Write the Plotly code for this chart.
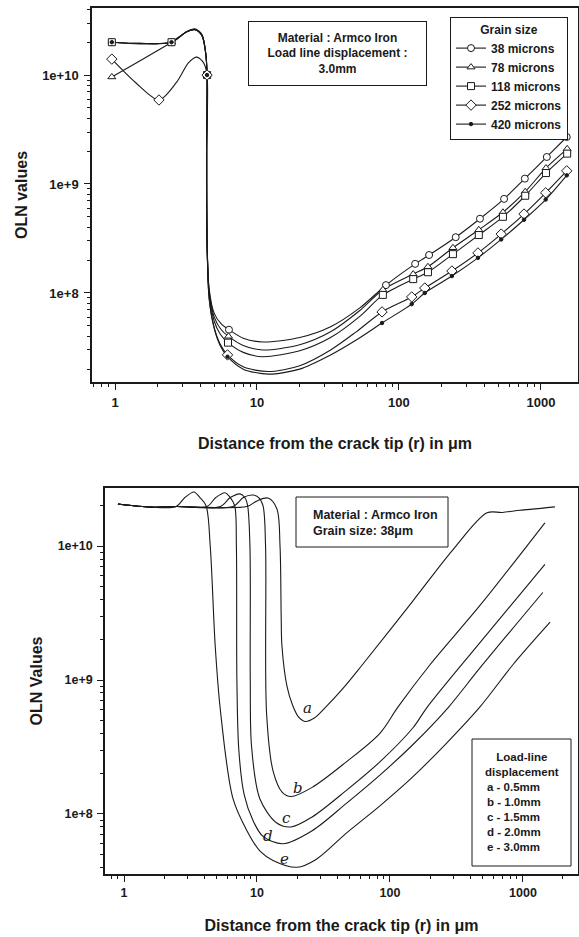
import math
import plotly.graph_objects as go

W, H = 579, 937

# ---------------- top panel: grain size series (load line displacement 3.0 mm) ----------------
grain_names = ["38 microns", "78 microns", "118 microns", "252 microns", "420 microns"]
grain_symbols = ["circle", "triangle-up", "square", "diamond", "circle"]

# measured points (markers)
g38_mx = [0.95, 2.5, 4.45, 6.35, 81, 130, 163, 251, 372, 550, 770, 1100, 1520]
g38_my = [2.0e10, 2.0e10, 1.0e10, 4.6e7, 1.18e8, 1.85e8, 2.23e8, 3.25e8, 4.8e8, 7.3e8, 1.12e9, 1.77e9, 2.7e9]
g78_mx = [0.95, 2.5, 4.45, 6.3, 77, 126, 160, 240, 365, 540, 775, 1085, 1530]
g78_my = [9.6e9, 2.0e10, 1.0e10, 4.0e7, 1.07e8, 1.49e8, 1.74e8, 2.6e8, 3.8e8, 5.5e8, 8.5e8, 1.4e9, 2.1e9]
g118_mx = [0.95, 2.5, 4.45, 6.25, 77, 126, 160, 240, 365, 540, 775, 1085, 1530]
g118_my = [2.0e10, 2.0e10, 1.0e10, 3.5e7, 9.6e7, 1.34e8, 1.55e8, 2.27e8, 3.4e8, 5.0e8, 7.8e8, 1.26e9, 1.9e9]
g252_mx = [0.95, 2.04, 4.45, 6.2, 76, 123, 152, 236, 360, 525, 760, 1080, 1520]
g252_my = [1.4e10, 5.9e9, 1.0e10, 2.7e7, 6.7e7, 9.2e7, 1.11e8, 1.59e8, 2.33e8, 3.47e8, 5.3e8, 8.3e8, 1.32e9]
g420_mx = [0.95, 2.5, 4.45, 6.2, 76, 123, 152, 236, 360, 525, 760, 1080, 1520]
g420_my = [2.0e10, 2.0e10, 1.0e10, 2.6e7, 5.3e7, 7.9e7, 1.0e8, 1.43e8, 2.1e8, 3.1e8, 4.7e8, 7.2e8, 1.2e9]

# fitted curves
g38_cx = [0.95, 1.5, 2.5, 3.2, 3.66, 4.1, 4.35, 4.45, 4.42, 4.45, 4.6, 5.0, 5.6, 6.35, 8, 11, 20, 33, 53,
          81, 130, 163, 251, 372, 550, 770, 1100, 1520]
g38_cy = [2.0e10, 1.93e10, 2.0e10, 2.5e10, 2.65e10, 2.35e10, 1.6e10, 1.0e10, 2e9, 3e8, 1.1e8, 6.5e7, 5.2e7, 4.6e7,
          3.85e7, 3.55e7, 3.9e7, 4.9e7, 7.3e7, 1.18e8, 1.85e8, 2.23e8, 3.25e8, 4.8e8, 7.3e8, 1.12e9, 1.77e9, 2.7e9]
g78_cx = [0.95, 1.6, 2.5, 3.2, 3.66, 4.1, 4.35, 4.45, 4.42, 4.45, 4.6, 5.0, 5.6, 6.3, 8, 11, 20, 33, 53,
          77, 126, 160, 240, 365, 540, 775, 1085, 1530]
g78_cy = [9.6e9, 1.42e10, 2.0e10, 2.5e10, 2.62e10, 2.3e10, 1.6e10, 1.0e10, 2e9, 3e8, 1.05e8, 6.0e7, 4.6e7, 4.0e7,
          3.3e7, 3.0e7, 3.35e7, 4.4e7, 6.9e7, 1.07e8, 1.49e8, 1.74e8, 2.6e8, 3.8e8, 5.5e8, 8.5e8, 1.4e9, 2.1e9]
g118_cx = [0.95, 1.5, 2.5, 3.2, 3.66, 4.1, 4.35, 4.45, 4.42, 4.45, 4.6, 5.0, 5.5, 6.25, 8, 11, 20, 33, 53,
           77, 126, 160, 240, 365, 540, 775, 1085, 1530]
g118_cy = [2.0e10, 1.95e10, 2.0e10, 2.5e10, 2.6e10, 2.3e10, 1.6e10, 1.0e10, 2e9, 3e8, 1.0e8, 5.5e7, 4.2e7, 3.5e7,
           2.85e7, 2.6e7, 2.95e7, 3.9e7, 6.1e7, 9.6e7, 1.34e8, 1.55e8, 2.27e8, 3.4e8, 5.0e8, 7.8e8, 1.26e9, 1.9e9]
g252_cx = [0.95, 1.4, 2.04, 2.7, 3.3, 3.77, 4.2, 4.45, 4.42, 4.45, 4.6, 5.0, 5.5, 6.2, 8, 12, 20, 33, 50,
           76, 123, 152, 236, 360, 525, 760, 1080, 1520]
g252_cy = [1.4e10, 8.5e9, 5.9e9, 8.5e9, 1.3e10, 1.46e10, 1.3e10, 1.0e10, 2e9, 3e8, 9e7, 4.8e7, 3.4e7, 2.7e7,
           2.1e7, 1.9e7, 2.15e7, 3.0e7, 4.4e7, 6.7e7, 9.2e7, 1.11e8, 1.59e8, 2.33e8, 3.47e8, 5.3e8, 8.3e8, 1.32e9]
g420_cx = [0.95, 1.5, 2.5, 3.2, 3.66, 4.1, 4.35, 4.45, 4.42, 4.45, 4.6, 5.0, 5.5, 6.2, 8, 12, 20, 33, 50,
           76, 123, 152, 236, 360, 525, 760, 1080, 1520]
g420_cy = [2.0e10, 1.95e10, 2.0e10, 2.5e10, 2.6e10, 2.3e10, 1.6e10, 1.0e10, 2e9, 3e8, 9e7, 4.7e7, 3.3e7, 2.6e7,
           2.0e7, 1.8e7, 2.0e7, 2.7e7, 3.7e7, 5.3e7, 7.9e7, 1.0e8, 1.43e8, 2.1e8, 3.1e8, 4.7e8, 7.2e8, 1.2e9]

# ---------------- bottom panel: load-line displacement series (grain size 38 um) ----------------
disp_labels = ["a", "b", "c", "d", "e"]
disp_values = ["0.5mm", "1.0mm", "1.5mm", "2.0mm", "3.0mm"]

da_x = [0.9, 1.6, 2.5, 8.4, 10.0, 12.1, 14.1, 14.9, 15.2, 15.4, 16.8, 18.5, 20.5, 23, 27, 33, 45, 62, 149, 298,
        537, 700, 950, 1300, 1740]
da_y = [2.06e10, 1.95e10, 1.97e10, 1.97e10, 2.17e10, 2.28e10, 1.9e10, 1.0e10, 3e9, 1.8e9, 9e8, 6.5e8, 5.3e8,
        4.9e8, 5.2e8, 6.3e8, 8.8e8, 1.3e9, 3.9e9, 9.4e9, 1.77e10, 1.78e10, 1.85e10, 1.9e10, 1.96e10]
db_x = [0.9, 1.6, 2.5, 6.6, 7.9, 9.3, 10.3, 11.1, 11.6, 11.8, 13.2, 15.5, 18, 26, 47, 84, 115, 200, 475, 1463]
db_y = [2.06e10, 1.95e10, 1.97e10, 1.97e10, 2.3e10, 2.4e10, 2.3e10, 2.0e10, 1.0e10, 5.7e8, 2.1e8, 1.45e8,
        1.35e8, 1.58e8, 2.45e8, 4.0e8, 6.3e8, 1.3e9, 3.6e9, 1.49e10]
dc_x = [0.9, 1.6, 2.5, 5.3, 6.3, 7.45, 8.1, 8.5, 8.85, 8.9, 9.1, 10.5, 14, 18, 26, 47, 84, 149, 189, 475, 1463]
dc_y = [2.06e10, 1.95e10, 1.97e10, 1.97e10, 2.3e10, 2.45e10, 2.3e10, 2.0e10, 1.0e10, 1.0e9, 3.2e8, 1.3e8,
        8.6e7, 8.0e7, 9.5e7, 1.5e8, 2.45e8, 4.4e8, 6.2e8, 1.9e9, 7.3e9]
dd_x = [0.9, 1.6, 2.5, 4.2, 4.9, 5.74, 6.3, 6.8, 7.0, 7.06, 7.3, 8.0, 9.3, 11.1, 15.7, 26, 47, 84, 149, 273,
        475, 1410]
dd_y = [2.06e10, 1.95e10, 1.97e10, 1.97e10, 2.3e10, 2.5e10, 2.3e10, 2.0e10, 1.0e10, 1.0e9, 3.0e8, 1.4e8,
        9.0e7, 6.8e7, 6.0e7, 7.5e7, 1.2e8, 1.95e8, 3.3e8, 6.2e8, 1.23e9, 4.5e9]
de_x = [0.9, 1.6, 2.46, 2.87, 3.36, 3.72, 4.14, 4.45, 4.85, 5.3, 6.6, 8.4, 10.5, 13.2, 20, 28, 47, 84, 149, 268,
        475, 840, 1600]
de_y = [2.06e10, 1.95e10, 1.97e10, 2.3e10, 2.53e10, 2.3e10, 2.0e10, 1.0e10, 1.8e9, 6e8, 1.3e8, 7.5e7, 5.3e7,
        4.5e7, 4.0e7, 4.6e7, 7.2e7, 1.15e8, 1.9e8, 3.4e8, 6.3e8, 1.3e9, 2.7e9]

# curve letter label positions (data coords, bottom panel)
lab_x = [23.8, 20.3, 16.8, 12.1, 16.2]
lab_y = [6.2e8, 1.55e8, 9.3e7, 6.8e7, 4.6e7]

x_ticks = [1, 10, 100, 1000]
x_ticktext = ["1", "10", "100", "1000"]
y_ticks = [1e8, 1e9, 1e10]
y_ticktext = ["1e+8", "1e+9", "1e+10"]

# ---------------- figure ----------------
INK = "#1a1a1a"
FONT = "Liberation Sans, Arial, sans-serif"

fig = go.Figure()

top_curves = [(g38_cx, g38_cy), (g78_cx, g78_cy), (g118_cx, g118_cy), (g252_cx, g252_cy), (g420_cx, g420_cy)]
top_marks = [(g38_mx, g38_my), (g78_mx, g78_my), (g118_mx, g118_my), (g252_mx, g252_my), (g420_mx, g420_my)]
msizes = [7, 7, 7, 8, 3.5]

for (cx, cy) in top_curves:
    fig.add_trace(go.Scatter(x=cx, y=cy, mode="lines", xaxis="x", yaxis="y", showlegend=False,
                             hoverinfo="skip",
                             line=dict(color=INK, width=1.1, shape="spline", smoothing=0.8)))

for i, (mx, my) in enumerate(top_marks):
    filled = (i == 4)
    fig.add_trace(go.Scatter(x=mx, y=my, mode="markers", xaxis="x", yaxis="y", showlegend=False,
                             name=grain_names[i],
                             marker=dict(symbol=grain_symbols[i], size=msizes[i],
                                         color=INK if filled else "white",
                                         line=dict(color=INK, width=1))))

# legend entries
for i, nm in enumerate(grain_names):
    filled = (i == 4)
    fig.add_trace(go.Scatter(x=[None], y=[None], mode="lines+markers", xaxis="x", yaxis="y", name=nm,
                             line=dict(color=INK, width=1.1),
                             marker=dict(symbol=grain_symbols[i], size=msizes[i],
                                         color=INK if filled else "white",
                                         line=dict(color=INK, width=1))))

bottom_curves = [(da_x, da_y), (db_x, db_y), (dc_x, dc_y), (dd_x, dd_y), (de_x, de_y)]
for i, (cx, cy) in enumerate(bottom_curves):
    fig.add_trace(go.Scatter(x=cx, y=cy, mode="lines", xaxis="x2", yaxis="y2", showlegend=False,
                             name=disp_labels[i] + " - " + disp_values[i], hoverinfo="skip",
                             line=dict(color=INK, width=1.1, shape="spline", smoothing=0.9)))

for i, lab in enumerate(disp_labels):
    fig.add_annotation(x=math.log10(lab_x[i]), y=math.log10(lab_y[i]), xref="x2", yref="y2",
                       text="<i>" + lab + "</i>", showarrow=False, xanchor="center", yanchor="middle",
                       font=dict(family="DejaVu Serif, serif", size=15, color=INK))

minor_vals = [m * 10 ** k for k in range(-1, 4) for m in range(2, 10)]
minor_vals_y = [m * 10 ** k for k in range(7, 11) for m in range(2, 10)]


def xax(domain, rng, tickfs, standoff, title_standoff):
    return dict(type="log", domain=domain, range=rng, showgrid=False, zeroline=False,
                showline=True, linecolor=INK, linewidth=1.5, mirror=True,
                ticks="outside", ticklen=6, tickwidth=1.2, tickcolor=INK,
                tickvals=x_ticks, ticktext=x_ticktext, ticklabelstandoff=standoff,
                tickfont=dict(family=FONT, size=tickfs, color=INK, weight="bold"),
                minor=dict(ticks="outside", ticklen=3, tickwidth=1, tickcolor=INK, tickvals=minor_vals),
                automargin=False,
                title=dict(text="Distance from the crack tip (r) in \u03bcm", standoff=title_standoff,
                           font=dict(family=FONT, size=16, color=INK, weight="bold")))


def yax(domain, rng, title, tickfs, standoff, title_standoff):
    return dict(type="log", domain=domain, range=rng, showgrid=False, zeroline=False,
                showline=True, linecolor=INK, linewidth=1.5, mirror=True,
                ticks="outside", ticklen=6, tickwidth=1.2, tickcolor=INK,
                tickvals=y_ticks, ticktext=y_ticktext, ticklabelstandoff=standoff,
                tickfont=dict(family=FONT, size=tickfs, color=INK, weight="bold"),
                minor=dict(ticks="outside", ticklen=3, tickwidth=1, tickcolor=INK, tickvals=minor_vals_y),
                automargin=False,
                title=dict(text=title, standoff=title_standoff,
                           font=dict(family=FONT, size=16, color=INK, weight="bold")))


fig.update_layout(
    width=W, height=H, margin=dict(l=0, r=0, t=0, b=0),
    paper_bgcolor="white", plot_bgcolor="white",
    font=dict(family=FONT, color=INK),
    xaxis=dict(**xax([92 / W, 578 / W], [-0.162, 3.261], 13, 2, 28), anchor="y"),
    yaxis=dict(**yax([1 - 382 / H, 1 - 8 / H], [7.183, 10.615], "OLN values", 13, 3, 11), anchor="x"),
    xaxis2=dict(**xax([105 / W, 578 / W], [-0.143, 3.414], 12.5, 0, 21), anchor="y2"),
    yaxis2=dict(**yax([1 - 874 / H, 1 - 488 / H], [7.552, 10.433], "OLN Values", 12.5, 2, 11), anchor="x2"),
    legend=dict(x=450 / W, y=1 - 17 / H, xanchor="left", yanchor="top",
                bgcolor="white", bordercolor=INK, borderwidth=1,
                font=dict(family=FONT, size=12, color=INK, weight="bold"),
                title=dict(text="Grain size", side="top center",
                           font=dict(family=FONT, size=12, color=INK, weight="bold")),
                itemwidth=30, tracegroupgap=0),
)

# top info box
fig.add_annotation(xref="paper", yref="paper", x=(248 + 427) / 2 / W, y=1 - 53.5 / H,
                   xanchor="center", yanchor="middle",
                   text="Material : Armco Iron<br>Load line displacement :<br>3.0mm",
                   showarrow=False, align="center", width=175, height=61,
                   bordercolor=INK, borderwidth=1, bgcolor="white",
                   font=dict(family=FONT, size=12, color=INK, weight="bold"))

# bottom info box
fig.add_shape(type="rect", xref="paper", yref="paper", x0=296 / W, x1=448 / W, y0=1 - 547 / H, y1=1 - 497 / H,
              line=dict(color=INK, width=1), fillcolor="white", layer="above")
fig.add_annotation(xref="paper", yref="paper", x=311 / W, y=1 - 522.5 / H, xanchor="left", yanchor="middle",
                   text="Material : Armco Iron<br>Grain size: 38\u03bcm", showarrow=False, align="left",
                   font=dict(family=FONT, size=12.5, color=INK, weight="bold"))

# bottom legend-like box
fig.add_shape(type="rect", xref="paper", yref="paper", x0=472 / W, x1=571 / W, y0=1 - 866 / H, y1=1 - 739 / H,
              line=dict(color=INK, width=1), fillcolor="white", layer="above")
fig.add_annotation(xref="paper", yref="paper", x=521.5 / W, y=1 - 764 / H, xanchor="center", yanchor="middle",
                   text="Load-line<br>displacement", showarrow=False, align="center",
                   font=dict(family=FONT, size=11.5, color=INK, weight="bold"))
fig.add_annotation(xref="paper", yref="paper", x=485 / W, y=1 - 817 / H, xanchor="left", yanchor="middle",
                   text="<br>".join(l + " - " + v for l, v in zip(disp_labels, disp_values)),
                   showarrow=False, align="left",
                   font=dict(family=FONT, size=11.5, color=INK, weight="bold"))

fig.write_html("out.html")
